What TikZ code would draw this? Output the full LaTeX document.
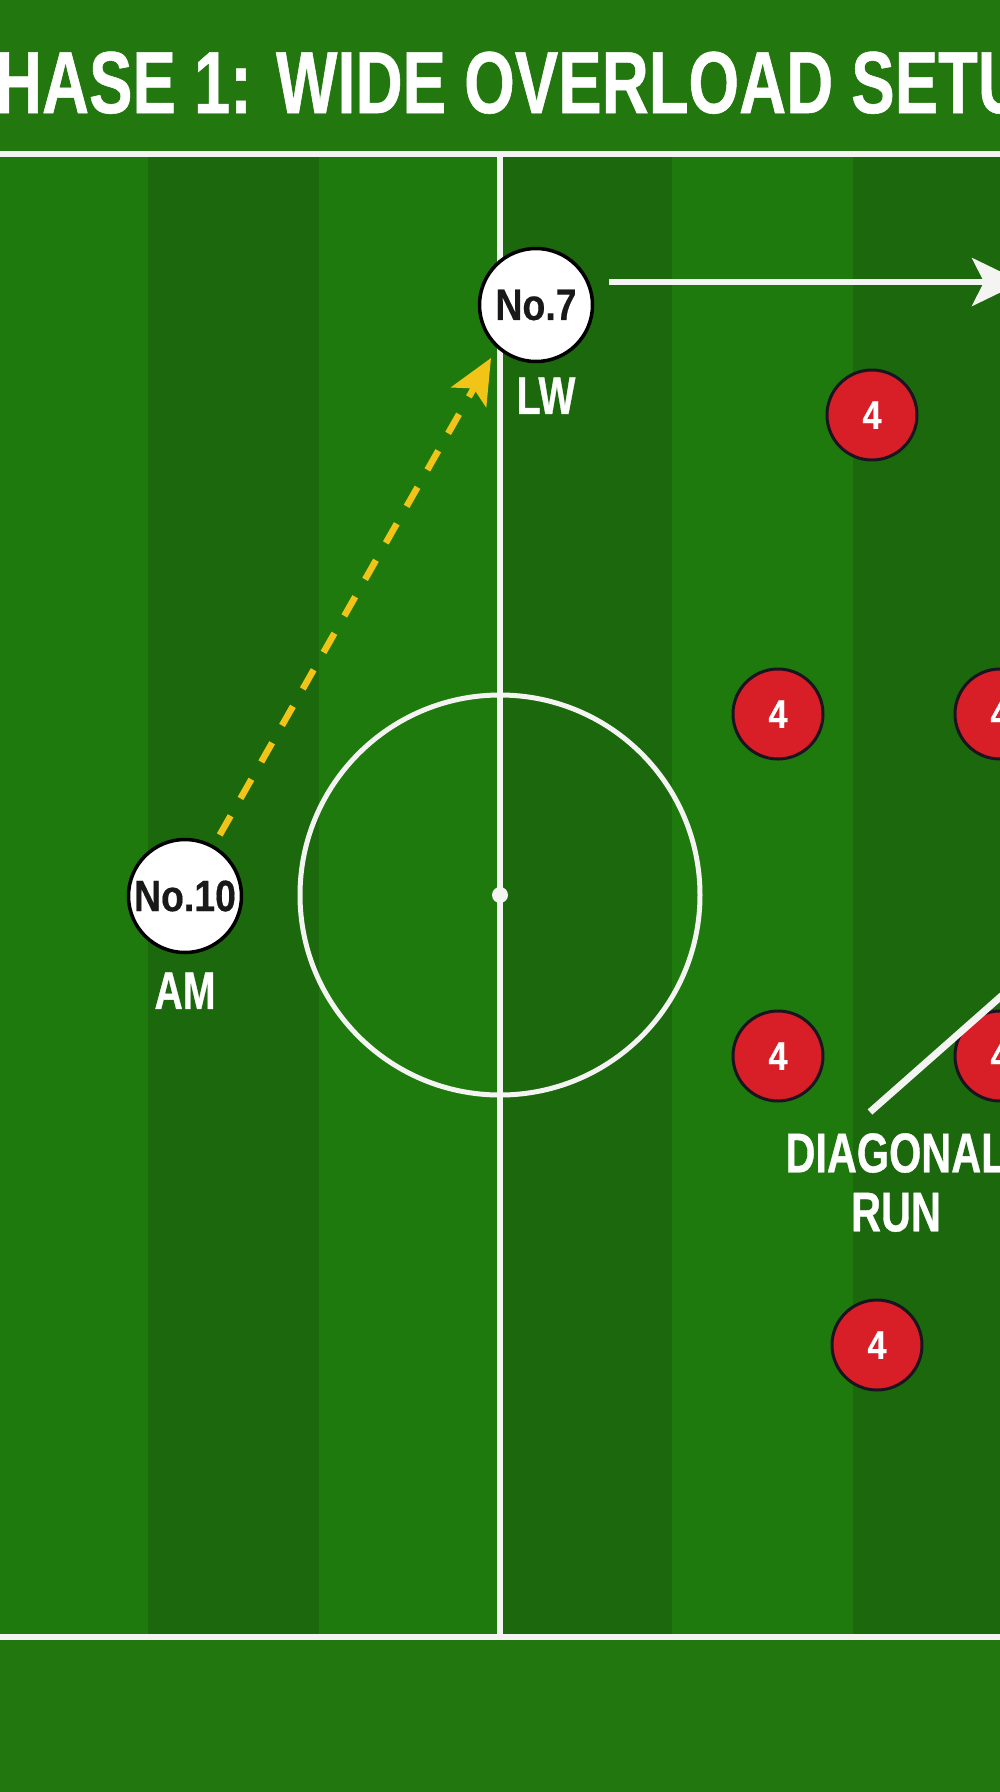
\documentclass[tikz,border=0pt]{standalone}
\usepackage{fontspec}
\usepackage{tikz}
\usetikzlibrary{arrows.meta,positioning}

\newfontfamily\titlefont{Liberation Sans Bold}[FakeStretch=0.74, FakeBold=0.6]
\newfontfamily\numfont{Liberation Sans Bold}[FakeStretch=0.85, FakeBold=0.4]

\definecolor{pitchgreen}{HTML}{22770F}
\definecolor{stripelight}{HTML}{1F7A0D}
\definecolor{stripedark}{HTML}{1B690C}
\definecolor{linewhite}{HTML}{F4F4F2}
\definecolor{passyellow}{HTML}{F2C417}
\definecolor{oppred}{HTML}{D81E27}
\definecolor{rimdark}{HTML}{1A1420}

\begin{document}
\begin{tikzpicture}[x=1pt, y=-1pt, >=Stealth]
  \tikzstyle{player} = [draw=black, line width=3.5pt, fill=white, circle, minimum size=113pt, inner sep=0pt, font={\numfont\fontsize{44}{44}\selectfont}, text=black!90]
  \tikzstyle{opponent} = [draw=rimdark, line width=3pt, fill=oppred, circle, minimum size=90pt, inner sep=0pt, font={\numfont\fontsize{40}{40}\selectfont}, text=white]
  \tikzstyle{role} = [inner sep=0pt, text=white, font={\titlefont\fontsize{53}{53}\selectfont}]

  \tikzstyle{pitchLine} = [linewhite, line width=6pt];
  \tikzstyle{passEdge} = [passyellow, line width=6.5pt, dash pattern=on 22pt off 20pt, -{Stealth[length=45pt,width=40pt,inset=10pt]}];
  \tikzstyle{runEdge} = [linewhite, line width=6pt];

  \useasboundingbox (0,0) rectangle (1000,1792);
  \clip (0,0) rectangle (1000,1792);

  % grass and stripes
  \fill[pitchgreen] (0,0) rectangle (1000,1792);
  \fill[stripelight] (0,154) rectangle (1000,1637);
  \foreach \a/\b in {148/319, 500/672, 853/1000}
    \fill[stripedark] (\a,154) rectangle (\b,1637);

  % pitch markings
  \draw[pitchLine] (0,154) -- (1000,154);
  \draw[pitchLine] (0,1637) -- (1000,1637);
  \draw[pitchLine] (500,154) -- (500,1637);
  \draw[pitchLine, line width=5pt] (500,895) circle (200);
  \fill[linewhite] (500,895) circle (8);

  % players
  \node[player] (no7)  at (536,305) {No.7};
  \node[role]   (lw)   [below=14pt of no7, xshift=10pt] {LW};
  \node[player] (no10) at (185,896) {No.10};
  \node[role]   (am)   [below=18pt of no10] {AM};

  % opponents
  \foreach \name/\x/\y in {d1/872/415, d2/778/714, d3/1000/714, d4/778/1056, d5/1000/1056, d6/877/1345}
    \node[opponent] (\name) at (\x,\y) {4};

  % movement
  \coordinate (passEnd) at (491,358);
  \draw[passEdge, shorten <=12pt] (no10) -- (passEnd);

  \coordinate (runStart) at (609,282);
  \coordinate (runEnd) at (1022,282);
  \draw[runEdge, -{Stealth[length=50pt,width=48pt,inset=12pt]}] (runStart) -- (runEnd);

  \coordinate (diagStart) at (870,1112);
  \coordinate (diagEnd) at (1015,984);
  \draw[runEdge, line width=7pt] (diagStart) -- (diagEnd);

  % labels
  \node[role, align=center, anchor=north, font={\titlefont\fontsize{56}{59}\selectfont}] (diagLabel) at (896,1133) {DIAGONAL\\RUN};
  \node[role, anchor=base, font={\titlefont\fontsize{88}{88}\selectfont}] (title) at (510,113) {PHASE 1: WIDE OVERLOAD SETUP};
\end{tikzpicture}
\end{document}
